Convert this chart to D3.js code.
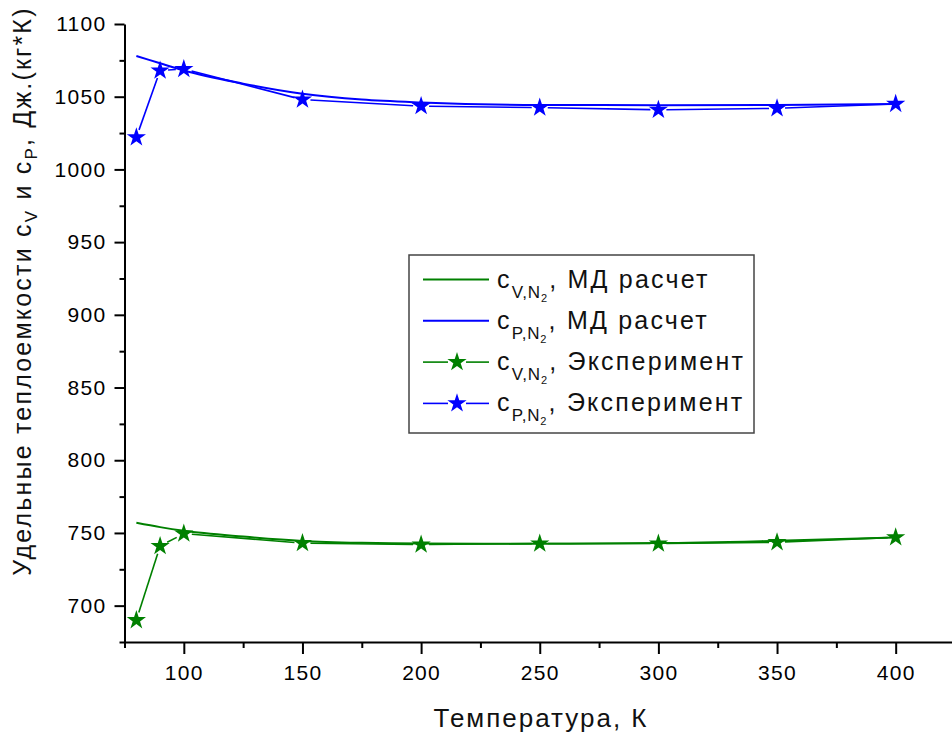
<!DOCTYPE html>
<html>
<head>
<meta charset="utf-8">
<script src="https://cdn.jsdelivr.net/npm/d3@7/dist/d3.min.js"></script>
<style>
  body { margin: 0; background: #fff; }
  svg { display: block; font-family: "Liberation Sans", Arial, sans-serif; }
  .axis path, .axis line { stroke: #000; stroke-width: 2; }
  .axis text { fill: #000; font-size: 21px; letter-spacing: 1.3px; }
</style>
</head>
<body>
<div id="chart"></div>
<script>
// experimental points
var expTemps = [80, 90, 100, 150, 200, 250, 300, 350, 400];
var cvExp = [690, 741, 749.5, 743, 742, 742.7, 742.7, 743.6, 747];
var cpExp = [1022, 1068, 1069, 1048, 1043.5, 1042.5, 1041, 1042, 1045];

// MD calculation curves
var calcTemps = [80, 90, 100, 125, 150, 175, 200, 250, 300, 350, 400];
var cvCalc = [757, 754, 751.5, 747.5, 744.5, 743.2, 742.7, 742.6, 743, 744.6, 746.8];
var cpCalc = [1078, 1073, 1068, 1059, 1052, 1048, 1046, 1044.3, 1044.2, 1044.3, 1045];

var xMajor = [100, 150, 200, 250, 300, 350, 400];
var xMinor = [75, 125, 175, 225, 275, 325, 375, 425];
var yMajor = [700, 750, 800, 850, 900, 950, 1000, 1050, 1100];
var yMinor = [675, 725, 775, 825, 875, 925, 975, 1025, 1075];

var GREEN = '#008000', BLUE = '#0000ff';

var svg = d3.select('#chart').append('svg')
  .attr('width', 952).attr('height', 734);

var x = d3.scaleLinear().domain([75, 425]).range([124.5, 955]);
var y = d3.scaleLinear().domain([675, 1100]).range([642, 24]);

// axes
svg.append('g').attr('class', 'axis')
  .attr('transform', 'translate(0,642)')
  .call(d3.axisBottom(x).tickValues(xMinor).tickSize(6).tickSizeOuter(0).tickFormat(''))
  .select('.domain').remove();
svg.append('g').attr('class', 'axis')
  .attr('transform', 'translate(0,642)')
  .call(d3.axisBottom(x).tickValues(xMajor).tickSize(12).tickSizeOuter(0)
    .tickPadding(11).tickFormat(d3.format('d')));

svg.append('g').attr('class', 'axis')
  .attr('transform', 'translate(124.5,0)')
  .call(d3.axisLeft(y).tickValues(yMinor).tickSize(5).tickSizeOuter(0).tickFormat(''))
  .select('.domain').remove();
svg.append('g').attr('class', 'axis')
  .attr('transform', 'translate(124.5,0)')
  .call(d3.axisLeft(y).tickValues(yMajor).tickSize(10).tickSizeOuter(0)
    .tickPadding(8).tickFormat(d3.format('d')));

// calc curves
var calcLine = d3.line()
  .x(function (d) { return x(d[0]); })
  .y(function (d) { return y(d[1]); })
  .curve(d3.curveMonotoneX);

function drawCalc(vals, color) {
  svg.append('path')
    .datum(calcTemps.map(function (t, i) { return [t, vals[i]]; }))
    .attr('d', calcLine)
    .attr('fill', 'none')
    .attr('stroke', color)
    .attr('stroke-width', 2);
}
drawCalc(cvCalc, GREEN);
drawCalc(cpCalc, BLUE);

// experiment: segments with gaps around the symbols
var star = d3.symbol().type(d3.symbolStar).size(115);
function drawExp(vals, color) {
  var pts = expTemps.map(function (t, i) { return [x(t), y(vals[i])]; });
  var gap = 8;
  for (var i = 0; i < pts.length - 1; i++) {
    var a = pts[i], b = pts[i + 1];
    var dx = b[0] - a[0], dy = b[1] - a[1];
    var len = Math.sqrt(dx * dx + dy * dy);
    if (len <= gap * 2) continue;
    var ux = dx / len, uy = dy / len;
    svg.append('line')
      .attr('x1', a[0] + ux * gap).attr('y1', a[1] + uy * gap)
      .attr('x2', b[0] - ux * gap).attr('y2', b[1] - uy * gap)
      .attr('stroke', color).attr('stroke-width', 1.6);
  }
  svg.selectAll(null).data(pts).enter().append('path')
    .attr('d', star)
    .attr('transform', function (d) { return 'translate(' + d[0] + ',' + d[1] + ')'; })
    .attr('fill', color);
}
drawExp(cvExp, GREEN);
drawExp(cpExp, BLUE);

// axis titles
svg.append('text')
  .attr('x', 541).attr('y', 727)
  .attr('text-anchor', 'middle')
  .attr('font-size', 26)
  .attr('letter-spacing', 2)
  .attr('fill', '#111')
  .text('Температура, К');

var yt = svg.append('text')
  .attr('transform', 'translate(31,291) rotate(-90)')
  .attr('text-anchor', 'middle')
  .attr('font-size', 25)
  .attr('letter-spacing', 2.2)
  .attr('fill', '#111');
yt.append('tspan').text('Удельные теплоемкости c');
yt.append('tspan').attr('font-size', 17).attr('dy', 6).text('V');
yt.append('tspan').attr('dy', -6).text(' и c');
yt.append('tspan').attr('font-size', 17).attr('dy', 6).text('P');
yt.append('tspan').attr('dy', -6).text(', Дж.(кг*К)');

// legend
var legendRows = [
  { sub: 'V,N', label: ', МД расчет', color: GREEN, marker: false },
  { sub: 'P,N', label: ', МД расчет', color: BLUE, marker: false },
  { sub: 'V,N', label: ', Эксперимент', color: GREEN, marker: true },
  { sub: 'P,N', label: ', Эксперимент', color: BLUE, marker: true }
];

var lg = svg.append('g');
lg.append('rect')
  .attr('x', 409).attr('y', 255)
  .attr('width', 345).attr('height', 178)
  .attr('fill', '#fff')
  .attr('stroke', '#444')
  .attr('stroke-width', 1.5);

legendRows.forEach(function (r, i) {
  var cy = 279.5 + i * 41.3;
  if (r.marker) {
    lg.append('line').attr('x1', 423).attr('x2', 448).attr('y1', cy).attr('y2', cy)
      .attr('stroke', r.color).attr('stroke-width', 1.6);
    lg.append('line').attr('x1', 466).attr('x2', 489).attr('y1', cy).attr('y2', cy)
      .attr('stroke', r.color).attr('stroke-width', 1.6);
    lg.append('path').attr('d', star)
      .attr('transform', 'translate(457,' + cy + ')')
      .attr('fill', r.color);
  } else {
    lg.append('line').attr('x1', 423).attr('x2', 489).attr('y1', cy).attr('y2', cy)
      .attr('stroke', r.color).attr('stroke-width', 2);
  }
  var t = lg.append('text')
    .attr('x', 497).attr('y', cy + 8)
    .attr('font-size', 25)
    .attr('letter-spacing', 2.2)
    .attr('fill', '#111');
  t.append('tspan').text('c');
  t.append('tspan').attr('font-size', 17).attr('letter-spacing', 0.8).attr('dy', 10).text(r.sub);
  t.append('tspan').attr('font-size', 11).attr('dy', 4).text('2');
  t.append('tspan').attr('dy', -14).text(r.label);
});
</script>
</body>
</html>
